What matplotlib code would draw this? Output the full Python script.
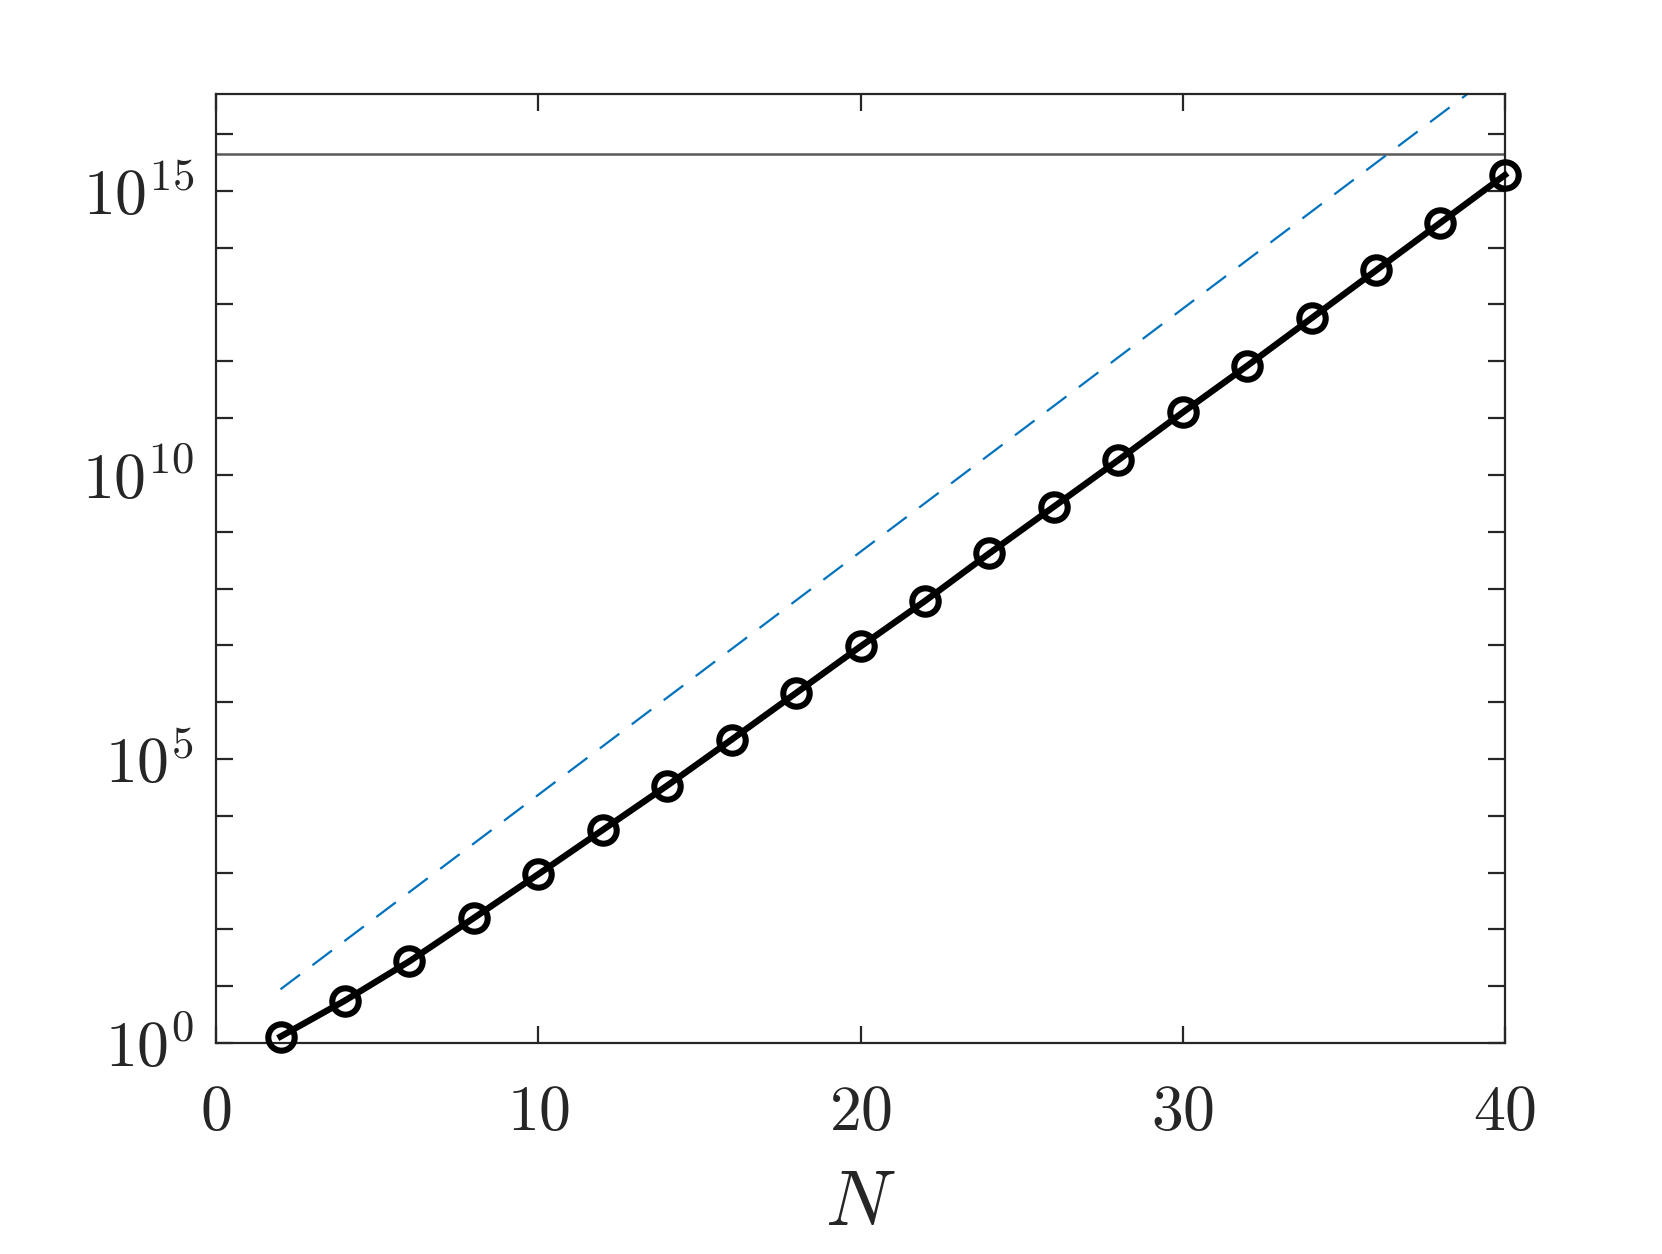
import matplotlib.pyplot as plt
import numpy as np

plt.rcParams['mathtext.fontset'] = 'cm'
plt.rcParams['font.family'] = 'DejaVu Serif'

# data
N = [2, 4, 6, 8, 10, 12, 14, 16, 18, 20, 22, 24, 26, 28, 30, 32, 34, 36, 38, 40]
log_cond = [0.112, 0.746, 1.437, 2.20, 2.97, 3.75, 4.53, 5.34, 6.16, 6.98,
            7.78, 8.62, 9.44, 10.26, 11.10, 11.92, 12.76, 13.60, 14.44, 15.28]
cond = [10**v for v in log_cond]
N_ref = [2, 40]
ref = [8.8, 1.6e17]
eps_inv = 2.0**52

fig = plt.figure(figsize=(8.31, 6.27), dpi=200)
ax = fig.add_axes([0.130, 0.1683, 0.7755, 0.7565])

ax.axhline(eps_inv, color='#5a5a5a', lw=0.9)
ax.plot(N_ref, ref, color='#0072BD', lw=0.8, dashes=(11, 7))
ax.plot(N, cond, 'k-', lw=2.3, marker='o', markersize=9.5,
        markerfacecolor='none', markeredgewidth=2.2, clip_on=False, zorder=5)

ax.set_yscale('log')
ax.set_xlim(0, 40)
ax.set_ylim(1, 10**16.7)
ax.set_xticks([0, 10, 20, 30, 40])
ax.set_xticklabels([f'${t}$' for t in [0, 10, 20, 30, 40]])
ax.set_yticks([10.0**k for k in range(0, 17)])
ax.set_yticklabels([f'$10^{{{k}}}$' if k % 5 == 0 else '' for k in range(0, 17)])
ax.minorticks_off()
ax.tick_params(direction='in', which='both', top=True, right=True,
               length=6, width=0.8, color='#262626', labelcolor='#262626',
               labelsize=23, pad=8)
ax.tick_params(axis='x', pad=14)
for s in ax.spines.values():
    s.set_color('#262626')
    s.set_linewidth(0.8)
ax.set_xlabel('$N$', fontsize=28, color='#262626', labelpad=8)

fig.savefig('out.png', dpi=200)
